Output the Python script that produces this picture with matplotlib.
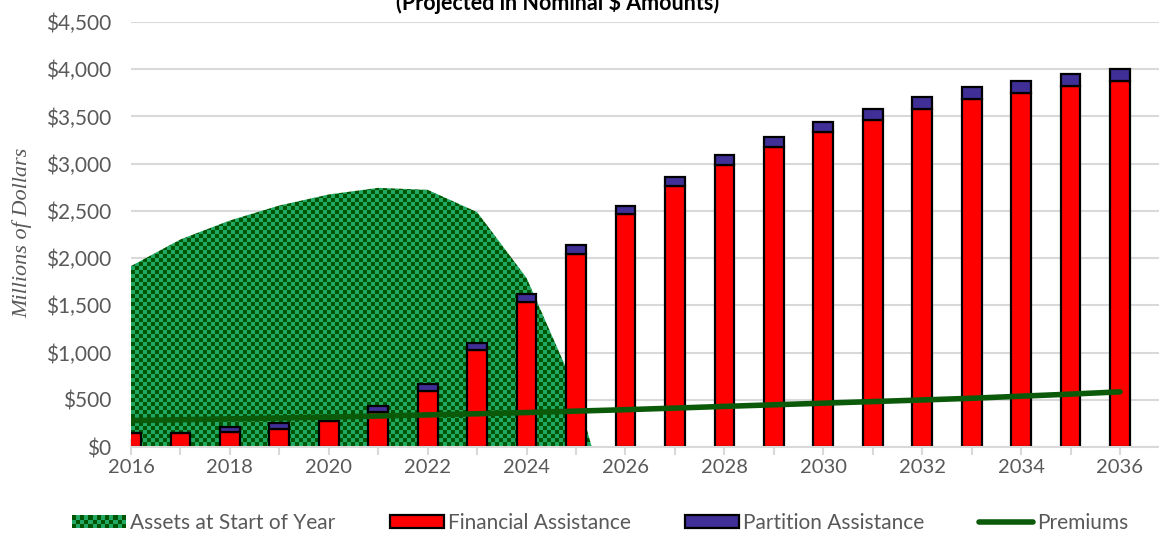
import numpy as np
import matplotlib
matplotlib.use("Agg")
import matplotlib.pyplot as plt
from matplotlib.patches import Rectangle
from matplotlib.lines import Line2D
from matplotlib.legend_handler import HandlerBase
from matplotlib.ticker import FuncFormatter, MultipleLocator

# values (millions of dollars)
years = list(range(2016, 2037))
financial = [150, 150, 158, 194, 271, 366, 591, 1032, 1540, 2047, 2462, 2762,
             2987, 3174, 3332, 3463, 3579, 3685, 3744, 3818, 3871]
partition = [0, 0, 56, 63, 8, 70, 77, 74, 84, 95, 95, 98,
             106, 109, 113, 119, 127, 123, 127, 134, 131]
premiums = [280, 289, 298, 307, 317, 328, 340, 352, 365, 380, 395, 412,
            430, 447, 464, 481, 498, 516, 538, 560, 584]
asset_years = list(range(2016, 2033))
assets = [1916, 2198, 2399, 2557, 2674, 2744, 2723, 2487, 1790, 597, -1280,
          -3000, -4800, -6700, -8700, -10800, -13000]

DARK_GREEN = "#005500"
LIGHT_GREEN = "#22a865"
RED = "#ff0000"
BLUE = "#3f2f96"
LINE_GREEN = "#0a5a0a"
GRAY_TEXT = "#595959"
GRID = "#d9d9d9"

plt.rcParams['font.family'] = ['Lato', 'DejaVu Sans']

W, H = 1159, 536
fig = plt.figure(figsize=(W / 100, H / 100), dpi=100)
ax_left, ax_right, ax_top, ax_bottom = 131, 1159, 22, 447
ax = fig.add_axes([ax_left / W, 1 - ax_bottom / H,
                   (ax_right - ax_left) / W, (ax_bottom - ax_top) / H])

# checkered area for assets
poly = ax.fill_between(asset_years, assets, 0, facecolor="none",
                       edgecolor="none", zorder=1)
pw, ph = ax_right - ax_left, ax_bottom - ax_top
jj, ii = np.meshgrid(np.arange(pw), np.arange(ph))
mask = ((ii // 4 + jj // 4) % 2).astype(bool)
tex = np.zeros((ph, pw, 3))
tex[:] = matplotlib.colors.to_rgb(DARK_GREEN)
tex[mask] = matplotlib.colors.to_rgb(LIGHT_GREEN)
im = ax.imshow(tex, extent=(0, 1, 0, 1), transform=ax.transAxes,
               interpolation="nearest", aspect="auto", zorder=1)
im.set_clip_path(poly.get_paths()[0], transform=ax.transData)

# stacked bars
ax.bar(years, financial, width=0.4, color=RED, edgecolor="black",
       linewidth=1.6, zorder=2)
ax.bar(years, partition, width=0.4, bottom=financial, color=BLUE,
       edgecolor="black", linewidth=1.6, zorder=2)

# premiums line
ax.plot(years, premiums, color=LINE_GREEN, linewidth=4,
        solid_capstyle="round", zorder=3)

ax.set_xlim(2016, 2016 + (ax_right - ax_left) / 49.45)
ax.set_ylim(0, 4500)
ax.yaxis.set_major_locator(MultipleLocator(500))
ax.yaxis.set_major_formatter(FuncFormatter(lambda v, p: "${:,.0f}".format(v)))
ax.xaxis.set_major_locator(MultipleLocator(2))
ax.xaxis.set_minor_locator(MultipleLocator(1))
ax.xaxis.set_major_formatter(FuncFormatter(lambda v, p: "%d" % v))

ax.set_axisbelow(True)
ax.grid(axis="y", color=GRID, linewidth=1.5)
for s in ["top", "right", "left"]:
    ax.spines[s].set_visible(False)
ax.spines["bottom"].set_color(GRID)
ax.spines["bottom"].set_linewidth(1.5)
ax.spines["bottom"].set_zorder(4)
ax.tick_params(axis="y", length=0, pad=14, labelsize=15, labelcolor=GRAY_TEXT)
ax.tick_params(axis="x", which="both", direction="inout", length=11,
               width=1.5, color=GRID, labelsize=14.5, labelcolor=GRAY_TEXT, pad=3)

fig.text(22 / W, 1 - 233 / H, "Millions of Dollars", rotation=90,
         ha="center", va="center", fontsize=16, style="italic",
         family="Liberation Serif", color=GRAY_TEXT)
fig.text(558 / W, 1 - 10 / H, "(Projected in Nominal $ Amounts)",
         ha="center", va="baseline", fontsize=15.5, fontweight="bold",
         color="black")


class CheckerHandler(HandlerBase):
    def create_artists(self, legend, orig_handle, xdescent, ydescent,
                       width, height, fontsize, trans):
        arts = [Rectangle((-xdescent, -ydescent), width, height,
                          facecolor=DARK_GREEN, edgecolor="none",
                          transform=trans)]
        cell = 2.9
        nx, ny = int(round(width / cell)), int(round(height / cell))
        cw, ch = width / nx, height / ny
        for i in range(nx):
            for j in range(ny):
                if (i + j) % 2:
                    arts.append(Rectangle((-xdescent + i * cw, -ydescent + j * ch),
                                          cw, ch, facecolor=LIGHT_GREEN,
                                          edgecolor="none", transform=trans))
        return arts


asset_handle = Rectangle((0, 0), 1, 1)
fin_handle = Rectangle((0, 0), 1, 1, facecolor=RED, edgecolor="black", linewidth=1.6)
par_handle = Rectangle((0, 0), 1, 1, facecolor=BLUE, edgecolor="black", linewidth=1.6)
prem_handle = Line2D([], [], color=LINE_GREEN, linewidth=4, solid_capstyle="round")

leg = fig.legend([asset_handle, fin_handle, par_handle, prem_handle],
                 ["Assets at Start of Year", "Financial Assistance",
                  "Partition Assistance", "Premiums"],
                 handler_map={asset_handle: CheckerHandler()},
                 loc="center", bbox_to_anchor=(600 / W, 1 - 523 / H), ncol=4,
                 frameon=False, fontsize=15, handlelength=2.6, handleheight=0.55,
                 handletextpad=0.2, columnspacing=2.6, borderpad=0)
for t in leg.get_texts():
    t.set_color(GRAY_TEXT)

fig.savefig("out.png", dpi=100)
